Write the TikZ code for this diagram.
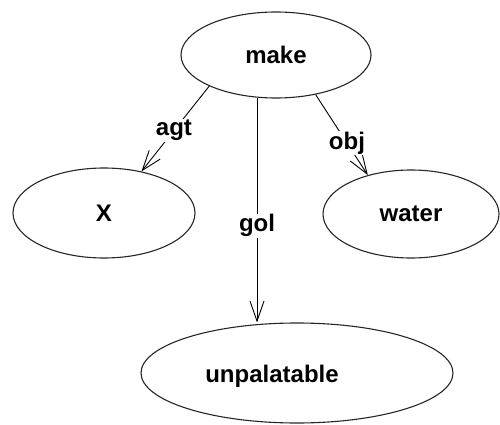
\documentclass[tikz,border=0pt]{standalone}
\usepackage{fontspec}
\setmainfont{Liberation Sans}
\usetikzlibrary{arrows.meta,shapes.geometric}

\begin{document}
\begin{tikzpicture}[
  x=1pt,y=-1pt,
  oval/.style={ellipse,draw=black!85,line width=1.1pt,inner sep=0pt,font=\fontsize{24}{28}\selectfont\bfseries},
  word/.style={inner sep=1pt,font=\fontsize{24}{28}\selectfont\bfseries},
  rel/.style={inner sep=1pt,fill=white,font=\fontsize{24}{28}\selectfont\bfseries},
  arr/.style={-{Straight Barb[length=20pt,width=14pt]},line width=0.9pt}
]
\useasboundingbox (0,0) rectangle (500,425);
\node[oval,minimum width=190pt,minimum height=86pt] (make) at (276,55) {make};
\node[oval,minimum width=182pt,minimum height=90pt] (x) at (104,213) {X};
\node[oval,minimum width=176pt,minimum height=88pt] (water) at (411,214) {water};
\node[oval,minimum width=312pt,minimum height=100pt] (unpal) at (297,373) {};
\node[word] (unpaltxt) at (272,376) {unpalatable};
\draw[arr] (make.205) -- node[rel,pos=0.52] (agt) {agt} (x.48);
\draw[arr] (make.246) -- node[rel,pos=0.57] (gol) {gol} (make.246 |- unpal.north);
\draw[arr] (make.315) -- node[rel,pos=0.6] (obj) {obj} (water.138);
\end{tikzpicture}
\end{document}
